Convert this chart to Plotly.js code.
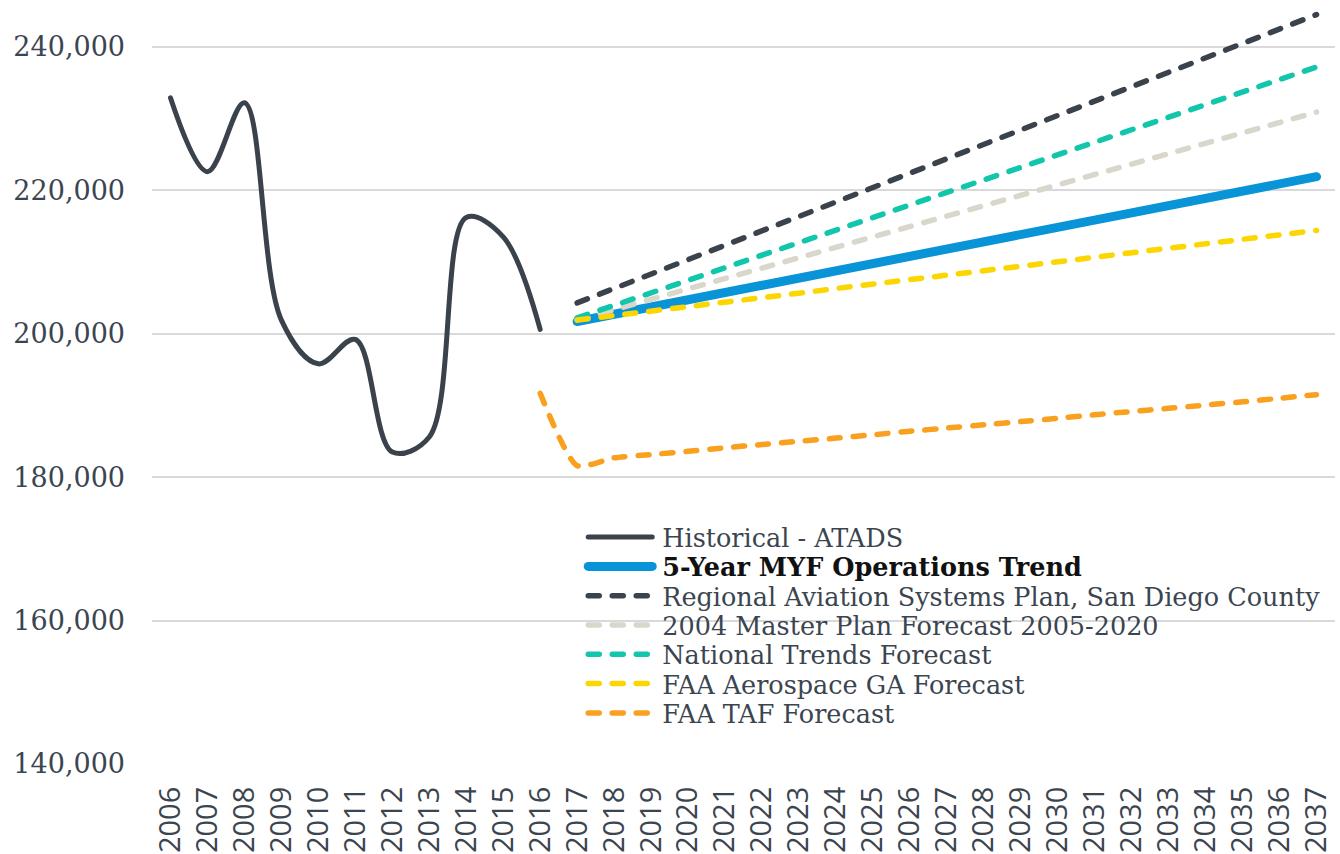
<!DOCTYPE html>
<html>
<head>
<meta charset="utf-8">
<script src="https://cdn.plot.ly/plotly-3.0.1.min.js"></script>
<style>
  html, body { margin: 0; padding: 0; background: #fff; }
  #chart { width: 1340px; height: 854px; }
</style>
</head>
<body>
<div id="chart"></div>
<script>
// ---- Data ----
const years = ['2006','2007','2008','2009','2010','2011','2012','2013','2014','2015','2016','2017','2018','2019','2020','2021','2022','2023','2024','2025','2026','2027','2028','2029','2030','2031','2032','2033','2034','2035','2036','2037'];

const histYears = ['2006','2007','2008','2009','2010','2011','2012','2013','2014','2015','2016'];
const historical = [232900, 222600, 232200, 201900, 195800, 199200, 183500, 185600, 216200, 213500, 200600];

const fcYears = ['2017','2018','2019','2020','2021','2022','2023','2024','2025','2026','2027','2028','2029','2030','2031','2032','2033','2034','2035','2036','2037'];
const myfTrend = [201700, 202700, 203700, 204700, 205700, 206800, 207800, 208800, 209800, 210800, 211800, 212800, 213800, 214800, 215800, 216900, 217900, 218900, 219900, 220900, 221900];
const regional = [204300, 206300, 208300, 210300, 212300, 214400, 216400, 218400, 220400, 222400, 224400, 226400, 228400, 230400, 232400, 234500, 236500, 238500, 240500, 242500, 244500];
const masterPlan = [201900, 203350, 204800, 206250, 207700, 209150, 210600, 212050, 213500, 214950, 216400, 217850, 219300, 220750, 222200, 223650, 225100, 226550, 228000, 229450, 230900];
const national = [202200, 203950, 205700, 207450, 209200, 210950, 212700, 214450, 216200, 217950, 219700, 221450, 223200, 224950, 226700, 228450, 230200, 231950, 233700, 235450, 237200];
const faaAero = [201900, 202500, 203150, 203800, 204400, 205000, 205650, 206300, 206900, 207500, 208150, 208800, 209400, 210000, 210650, 211300, 211900, 212500, 213150, 213800, 214400];

const tafYears = ['2016','2017','2018','2019','2020','2021','2022','2023','2024','2025','2026','2027','2028','2029','2030','2031','2032','2033','2034','2035','2036','2037'];
const faaTaf = [191700, 181600, 182700, 183150, 183600, 184100, 184550, 185000, 185450, 185900, 186400, 186850, 187300, 187750, 188200, 188700, 189150, 189600, 190050, 190500, 191000, 191500];

const yTicks = [140000, 160000, 180000, 200000, 220000, 240000];

// ---- Styles ----
const serif = '"DejaVu Serif", serif';
const textColor = '#3b4550';
const DASH = '11px,13px';
const DW = 5.5;

const traces = [
  { x: histYears, y: historical, name: 'Historical - ATADS', mode: 'lines',
    line: { color: '#3a424b', width: 5, shape: 'spline', smoothing: 1 } },
  { x: fcYears, y: myfTrend, name: '<span style="color:#111"><b>5-Year MYF Operations Trend</b></span>', mode: 'lines',
    line: { color: '#0a94d8', width: 9 } },
  { x: fcYears, y: regional, name: 'Regional Aviation Systems Plan, San Diego County', mode: 'lines',
    line: { color: '#3a424b', width: DW, dash: DASH } },
  { x: fcYears, y: masterPlan, name: '2004 Master Plan Forecast 2005-2020', mode: 'lines',
    line: { color: '#d9d7cc', width: DW, dash: DASH } },
  { x: fcYears, y: national, name: 'National Trends Forecast', mode: 'lines',
    line: { color: '#12c6ab', width: DW, dash: DASH } },
  { x: fcYears, y: faaAero, name: 'FAA Aerospace GA Forecast', mode: 'lines',
    line: { color: '#fcd600', width: DW, dash: DASH } },
  { x: tafYears, y: faaTaf, name: 'FAA TAF Forecast', mode: 'lines',
    line: { color: '#f9a01e', width: DW, dash: DASH, shape: 'spline', smoothing: 0.6 } }
];

const layout = {
  width: 1340, height: 854,
  paper_bgcolor: '#ffffff', plot_bgcolor: '#ffffff',
  margin: { l: 151.5, r: 4.5, t: 11, b: 90, pad: 0 },
  showlegend: true,
  legend: {
    x: 0.362, y: 0.332, xanchor: 'left', yanchor: 'top',
    bgcolor: 'rgba(0,0,0,0)', borderwidth: 0,
    font: { family: serif, size: 25.5, color: textColor },
    tracegroupgap: 0, traceorder: 'normal'
  },
  xaxis: {
    type: 'category', categoryorder: 'array', categoryarray: years,
    range: [-0.5, 31.5],
    tickmode: 'array', tickvals: years, ticktext: years,
    tickangle: -90, ticks: '', showgrid: false, zeroline: false,
    showline: false, ticklabelstandoff: 16,
    tickfont: { family: '"Open Sans", sans-serif', size: 29, color: textColor }
  },
  yaxis: {
    range: [140000, 245000], tickmode: 'array', tickvals: yTicks,
    tickformat: ',d', ticks: '', showgrid: true, gridcolor: '#d9d9d9', gridwidth: 2,
    zeroline: false, showline: false, ticklabelstandoff: 26,
    tickfont: { family: serif, size: 27, color: textColor }
  }
};

Plotly.newPlot('chart', traces, layout, { displayModeBar: false, staticPlot: true }).then(function () {
  document.querySelectorAll('#chart path.js-line').forEach(function (p) {
    p.style.strokeLinecap = 'round';
  });
  // let the legend show its full texts
  document.querySelectorAll('#chart .legend [clip-path]').forEach(function (el) {
    el.removeAttribute('clip-path');
  });
  const widths = [5, 9, DW, DW, DW, DW, DW];
  // tighten legend rows and lengthen legend keys to match the reference legend
  const items = document.querySelectorAll('#chart .legend .traces');
  let y0 = null;
  items.forEach(function (g, i) {
    const m = /translate\(([-\d.]+),\s*([-\d.]+)\)/.exec(g.getAttribute('transform') || '');
    const tx = m ? parseFloat(m[1]) : 0;
    const ty = m ? parseFloat(m[2]) : 0;
    if (y0 === null) y0 = ty;
    g.setAttribute('transform', 'translate(' + tx + ',' + (y0 + i * 29.3) + ')');
    g.querySelectorAll('.legendlines path').forEach(function (p) {
      p.setAttribute('d', 'M8,0h64');
      p.style.strokeLinecap = 'round';
      p.style.strokeWidth = widths[i] + 'px';
    });
    const t = g.querySelector('.legendtext');
    if (t) {
      t.setAttribute('x', 82);
      t.querySelectorAll('tspan[x]').forEach(function (s) { s.setAttribute('x', 82); });
    }
  });
});
</script>
</body>
</html>
